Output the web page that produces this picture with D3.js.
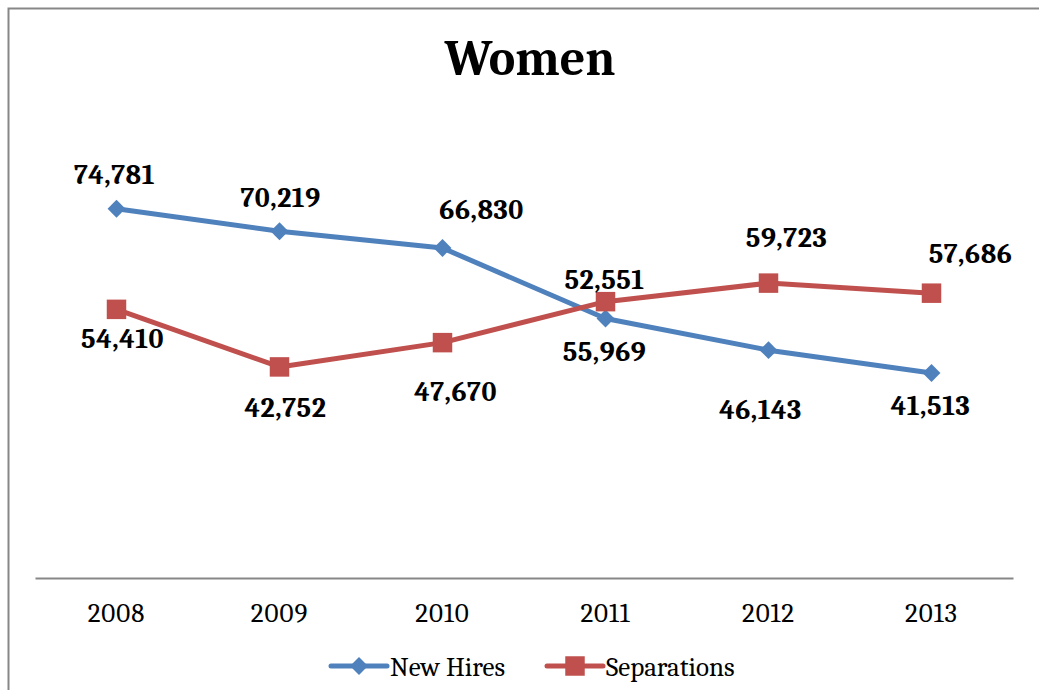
<!DOCTYPE html>
<html>
<head>
<meta charset="utf-8">
<script src="https://cdn.jsdelivr.net/npm/d3@7"></script>
<style>
  html, body { margin: 0; padding: 0; background: #fff; }
  svg { display: block; }
</style>
</head>
<body>
<svg id="chart" width="1039" height="690"></svg>
<script>
// Yearly counts for women
const years = ["2008", "2009", "2010", "2011", "2012", "2013"];
const newHires = [74781, 70219, 66830, 52551, 46143, 41513];
const separations = [54410, 42752, 47670, 55969, 59723, 57686];
const seriesNames = ["New Hires", "Separations"];

// Label placement relative to each point: [dx, dy to baseline]
const hireLabelOffsets = [[-2, -25], [1, -24], [39, -29], [-1, -30], [-8, 69], [-1, 42]];
const sepLabelOffsets = [[6, 39], [6, 50], [13, 58], [-1, 59], [18, -36], [39, -30]];

const blue = "#4F81BD";
const red = "#C0504D";
const axisGrey = "#878787";
const serif = "Cambria, 'Liberation Serif', 'DejaVu Serif', serif";

const svg = d3.select("#chart");

// Outer frame (top and left edges visible)
svg.append("path")
  .attr("d", "M8.5,690 L8.5,8.5 L1039,8.5")
  .attr("fill", "none")
  .attr("stroke", axisGrey)
  .attr("stroke-width", 2);

// Title
svg.append("text")
  .attr("x", 530)
  .attr("y", 75)
  .attr("text-anchor", "middle")
  .attr("font-family", serif)
  .attr("font-weight", "bold")
  .attr("font-size", 50)
  .attr("fill", "#000")
  .text("Women");

const x = d3.scaleBand().domain(years).range([35, 1013]);
const y = d3.scaleLinear().domain([0, 80000]).range([578, 183]);
const cx = d => x(d) + x.bandwidth() / 2;

// Category axis
const xAxis = d3.axisBottom(x).tickSize(0).tickPadding(0);
const gx = svg.append("g").attr("transform", "translate(0,578)").call(xAxis);
gx.select(".domain").attr("stroke", axisGrey).attr("stroke-width", 2.2);
gx.selectAll("text")
  .attr("font-family", serif)
  .attr("font-size", 27)
  .attr("letter-spacing", 1)
  .attr("fill", "#000")
  .attr("dy", 0)
  .attr("y", 44);

const line = d3.line().x(d => cx(d.year)).y(d => y(d.value));

function drawSeries(values, color, shape, offsets) {
  const data = years.map((yr, i) => ({ year: yr, value: values[i], off: offsets[i] }));
  const g = svg.append("g");
  g.append("path")
    .datum(data)
    .attr("d", line)
    .attr("fill", "none")
    .attr("stroke", color)
    .attr("stroke-width", 5)
    .attr("stroke-linejoin", "round");
  const sym = d3.symbol().type(shape === "diamond" ? d3.symbolSquare : d3.symbolSquare)
    .size(shape === "diamond" ? 160 : 380);
  g.selectAll(".mark")
    .data(data)
    .join("path")
    .attr("class", "mark")
    .attr("d", sym)
    .attr("transform", d => `translate(${cx(d.year)},${y(d.value)})` + (shape === "diamond" ? " rotate(45)" : ""))
    .attr("fill", color);
  return data;
}

const hireData = drawSeries(newHires, blue, "diamond", hireLabelOffsets);
const sepData = drawSeries(separations, red, "square", sepLabelOffsets);

// Data labels
const fmt = d3.format(",");
[hireData, sepData].forEach(data => {
  svg.append("g").selectAll("text")
    .data(data)
    .join("text")
    .attr("x", d => cx(d.year) + d.off[0])
    .attr("y", d => y(d.value) + d.off[1])
    .attr("text-anchor", "middle")
    .attr("font-family", serif)
    .attr("font-weight", "bold")
    .attr("font-size", 28)
    .attr("letter-spacing", 0.5)
    .attr("fill", "#000")
    .text(d => fmt(d.value));
});

// Legend
const legend = svg.append("g");
const legendItems = [
  { name: seriesNames[0], color: blue, shape: "diamond", x0: 331, x1: 387, tx: 390 },
  { name: seriesNames[1], color: red, shape: "square", x0: 547, x1: 603, tx: 606 }
];
legendItems.forEach(it => {
  legend.append("line")
    .attr("x1", it.x0).attr("x2", it.x1)
    .attr("y1", 666).attr("y2", 666)
    .attr("stroke", it.color)
    .attr("stroke-width", 5)
    .attr("stroke-linecap", "round");
  legend.append("path")
    .attr("d", d3.symbol().type(d3.symbolSquare).size(it.shape === "diamond" ? 160 : 380))
    .attr("transform", `translate(${(it.x0 + it.x1) / 2},666)` + (it.shape === "diamond" ? " rotate(45)" : ""))
    .attr("fill", it.color);
  legend.append("text")
    .attr("x", it.tx)
    .attr("y", 676)
    .attr("font-family", serif)
    .attr("font-size", 27)
    .attr("fill", "#000")
    .text(it.name);
});
</script>
</body>
</html>
